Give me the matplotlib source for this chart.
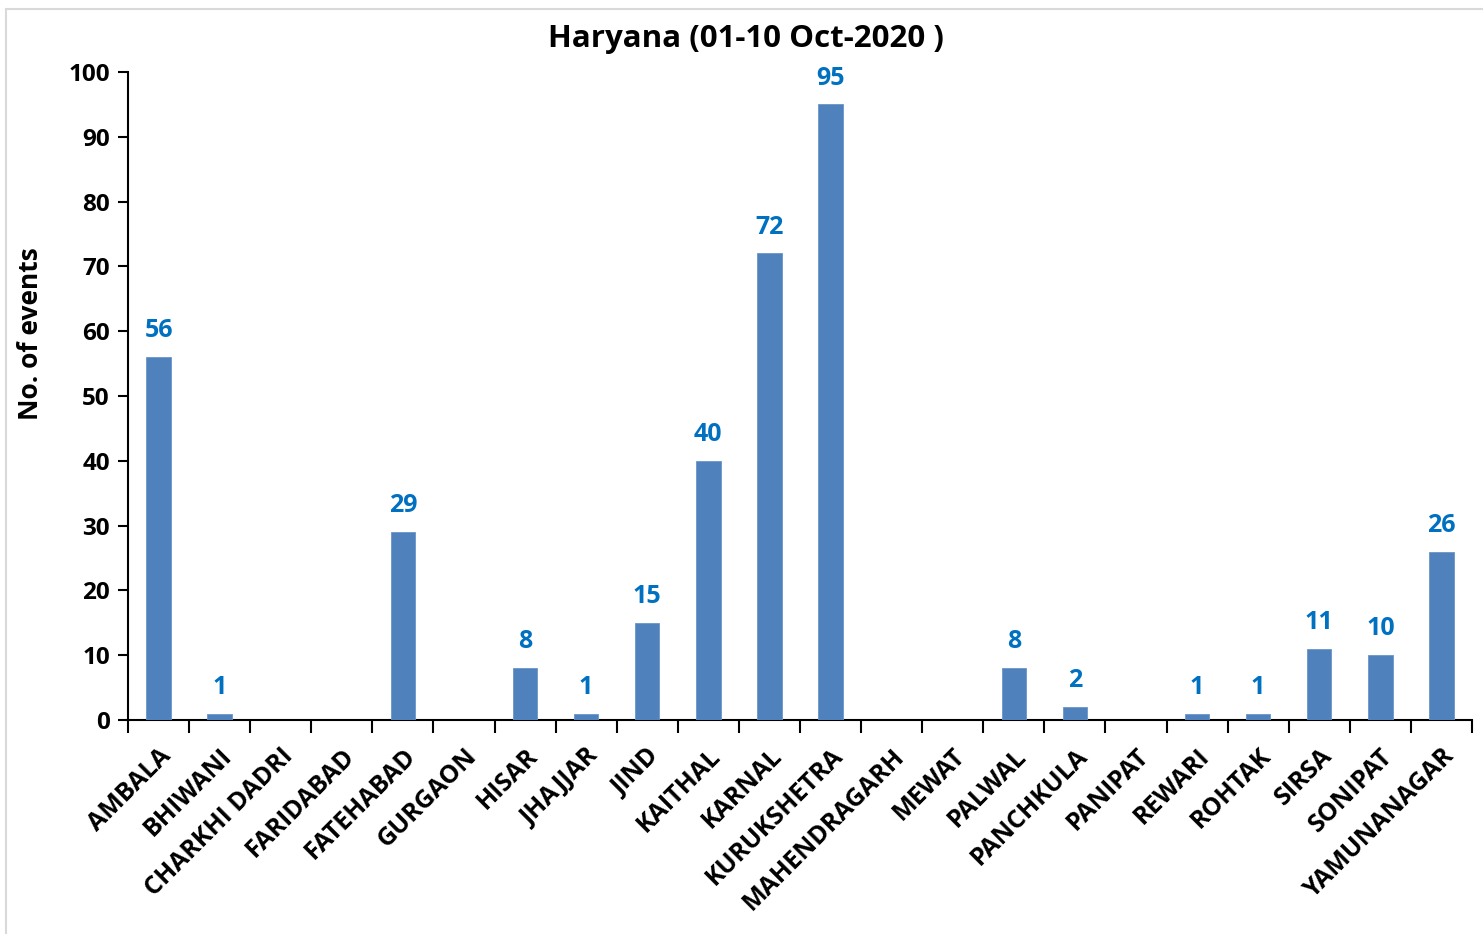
import matplotlib
matplotlib.use("Agg")
import matplotlib.pyplot as plt
from matplotlib.patches import Rectangle
import numpy as np

districts = ["AMBALA", "BHIWANI", "CHARKHI DADRI", "FARIDABAD", "FATEHABAD", "GURGAON",
             "HISAR", "JHAJJAR", "JIND", "KAITHAL", "KARNAL", "KURUKSHETRA",
             "MAHENDRAGARH", "MEWAT", "PALWAL", "PANCHKULA", "PANIPAT", "REWARI",
             "ROHTAK", "SIRSA", "SONIPAT", "YAMUNANAGAR"]
events = [56, 1, 0, 0, 29, 0, 8, 1, 15, 40, 72, 95, 0, 0, 8, 2, 0, 1, 1, 11, 10, 26]
yticks = [0, 10, 20, 30, 40, 50, 60, 70, 80, 90, 100]

plt.rcParams['font.family'] = ['Open Sans', 'DejaVu Sans']
plt.rcParams['font.weight'] = 'bold'

W, H = 1483, 934
fig = plt.figure(figsize=(W / 100, H / 100), dpi=100)
fig.patches.append(Rectangle((6 / W, -0.05), 1.2, (H - 9) / H + 0.05,
                             transform=fig.transFigure, fill=False,
                             edgecolor='#D9D9D9', linewidth=1.5))

ax = fig.add_axes([128 / W, (H - 720) / H, (1472 - 128) / W, (720 - 72) / H])
x = np.arange(len(districts))
ax.bar(x, events, width=0.4, color='#4F81BD', edgecolor='#6A95C8', linewidth=0.6, zorder=3)

for xi, v in zip(x, events):
    if v > 0:
        ax.annotate(str(v), (xi, v), xytext=(0, 10), textcoords='offset points',
                    ha='center', va='bottom', color='#0070C0', fontsize=18,
                    fontweight='bold')

ax.set_xlim(-0.5, len(districts) - 0.5)
ax.set_ylim(0, 100)
ax.set_yticks(yticks)
ax.set_yticklabels([str(t) for t in yticks], fontsize=17.5, fontweight='bold')

ax.set_xticks(np.arange(len(districts) + 1) - 0.5)
ax.set_xticklabels([])
ax.set_xticks(x, minor=True)
ax.set_xticklabels(districts, minor=True, rotation=45, ha='right', va='top',
                   rotation_mode='anchor', fontsize=18, fontweight='bold')
ax.tick_params(axis='x', which='minor', length=0, pad=17)
ax.tick_params(axis='x', which='major', direction='out', length=9, width=1.5)
ax.tick_params(axis='y', direction='out', length=7, width=1.5, pad=6)

for s in ['top', 'right']:
    ax.spines[s].set_visible(False)
for s in ['left', 'bottom']:
    ax.spines[s].set_linewidth(1.5)

ax.set_ylabel("No. of events", fontsize=19, fontweight='bold')
ax.yaxis.set_label_coords(-84 / 1344, (720 - 334) / 648)
fig.text(746 / W, 1 - 39 / H, "Haryana (01-10 Oct-2020 )", ha='center', va='center',
         fontsize=22.5, fontweight='bold')

fig.savefig("out.png", dpi=100)
